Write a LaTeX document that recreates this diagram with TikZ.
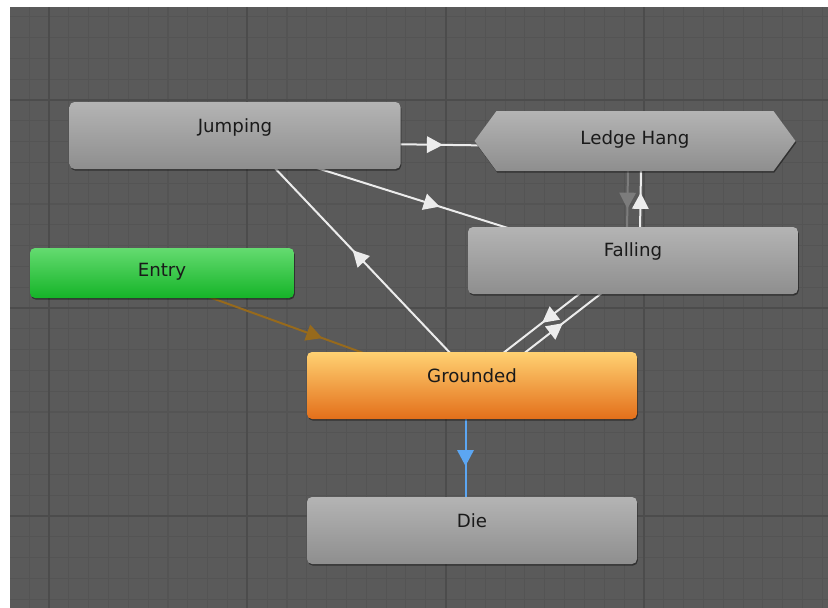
\documentclass[tikz,border=0pt]{standalone}
\usepackage{fontspec}
\setmainfont{DejaVu Sans}
\usetikzlibrary{calc,decorations.markings,shadows}
\pgfdeclarelayer{bg}
\pgfdeclarelayer{edges}
\pgfsetlayers{bg,edges,main}
\definecolor{canvasbg}{HTML}{5A5A5A}
\definecolor{gridminor}{HTML}{545454}
\definecolor{gridmajor}{HTML}{4C4C4C}
\definecolor{graytop}{HTML}{B4B4B4}
\definecolor{graybot}{HTML}{8E8E8E}
\definecolor{orangetop}{HTML}{FFD172}
\definecolor{orangebot}{HTML}{E36F1A}
\definecolor{greentop}{HTML}{64DB70}
\definecolor{greenbot}{HTML}{15B428}
\definecolor{txt}{HTML}{1A1A1A}
\definecolor{linewhite}{HTML}{ECECEC}
\definecolor{linegray}{HTML}{7C7C7C}
\definecolor{linebrown}{HTML}{976A1C}
\definecolor{lineblue}{HTML}{5CA6F2}
\tikzset{
  statebox/.style={rectangle, rounded corners=5pt, inner sep=0pt, outer sep=0pt,
    drop shadow={shadow xshift=0.8pt, shadow yshift=-1.6pt, opacity=0.45, fill=black}},
  graystate/.style={statebox, top color=graytop, bottom color=graybot},
  lbl/.style={text=txt, inner sep=0pt, font=\fontsize{18.2}{21}\selectfont},
  trans/.style={line width=2pt, draw=#1, postaction={decorate},
    decoration={markings, mark=at position 0.5 with {\fill[#1] (-8pt,-8.5pt) -- (8pt,0pt) -- (-8pt,8.5pt) -- cycle;}}},
  gminor/.style={draw=gridminor, line width=1.1pt},
  gmajor/.style={draw=gridmajor, line width=1.8pt}
}
\newcommand\transline[3]{%
  \begin{pgfonlayer}{edges}
  \draw[trans=#3] ($(#1.center)!6.5pt!-90:(#2.center)$) -- ($(#2.center)!6.5pt!90:(#1.center)$);
  \end{pgfonlayer}}
\begin{document}
\begin{tikzpicture}[x=1pt,y=-1pt]
\useasboundingbox (0,0) rectangle (828,608);
\begin{pgfonlayer}{bg}
\fill[white] (0,0) rectangle (828,608);
\begin{scope}
\clip (10,7) rectangle (828,608);
\fill[canvasbg] (10,7) rectangle (828,608);
\foreach \k in {-2,...,40} {\pgfmathsetmacro\xx{49+19.83*\k}\draw[gminor] (\xx,0) -- (\xx,608);}
\foreach \k in {-5,...,26} {\pgfmathsetmacro\yy{100+20.8*\k}\draw[gminor] (0,\yy) -- (828,\yy);}
\foreach \k in {0,1,2,3} {\pgfmathsetmacro\xx{49+198.3*\k}\draw[gmajor] (\xx,0) -- (\xx,608);}
\foreach \k in {0,1,2} {\pgfmathsetmacro\yy{100+208*\k}\draw[gmajor] (0,\yy) -- (828,\yy);}
\end{scope}
\end{pgfonlayer}

% states
\node[graystate, minimum width=331pt, minimum height=67pt,
  label={[lbl, name=jumptxt, yshift=8.5pt]center:Jumping}] (jump) at (235,135.5) {};
\node[inner sep=0pt, outer sep=0pt, minimum width=321pt, minimum height=60pt] (ledge) at (635,141) {};
\shade[top color=graytop, bottom color=graybot,
  drop shadow={shadow xshift=0.8pt, shadow yshift=-1.6pt, opacity=0.45, fill=black}]
  (ledge.west) -- ([xshift=22pt]ledge.north west) -- ([xshift=-22pt]ledge.north east)
  -- (ledge.east) -- ([xshift=-22pt]ledge.south east) -- ([xshift=22pt]ledge.south west) -- cycle;
\node[lbl] (ledgetxt) at ([yshift=1.5pt]ledge.center) {Ledge Hang};
\node[graystate, minimum width=330pt, minimum height=67pt,
  label={[lbl, name=falltxt, yshift=9.5pt]center:Falling}] (fall) at (633,260.5) {};
\node[statebox, top color=greentop, bottom color=greenbot, minimum width=264pt, minimum height=50pt,
  label={[lbl, name=entrytxt, yshift=1pt]center:Entry}] (entry) at (162,273) {};
\node[statebox, top color=orangetop, bottom color=orangebot, minimum width=330pt, minimum height=67pt,
  label={[lbl, name=groundtxt, yshift=9.5pt]center:Grounded}] (ground) at (472,385.5) {};
\node[graystate, minimum width=330pt, minimum height=67pt,
  label={[lbl, name=dietxt, yshift=9.5pt]center:Die}] (die) at (472,530.5) {};

% transitions
\transline{jump}{ledge}{linewhite}
\transline{jump}{fall}{linewhite}
\transline{ground}{jump}{linewhite}
\transline{entry}{ground}{linebrown}
\transline{fall}{ledge}{linewhite}
\transline{ledge}{fall}{linegray}
\transline{ground}{fall}{linewhite}
\transline{fall}{ground}{linewhite}
\transline{ground}{die}{lineblue}
\end{tikzpicture}
\end{document}
